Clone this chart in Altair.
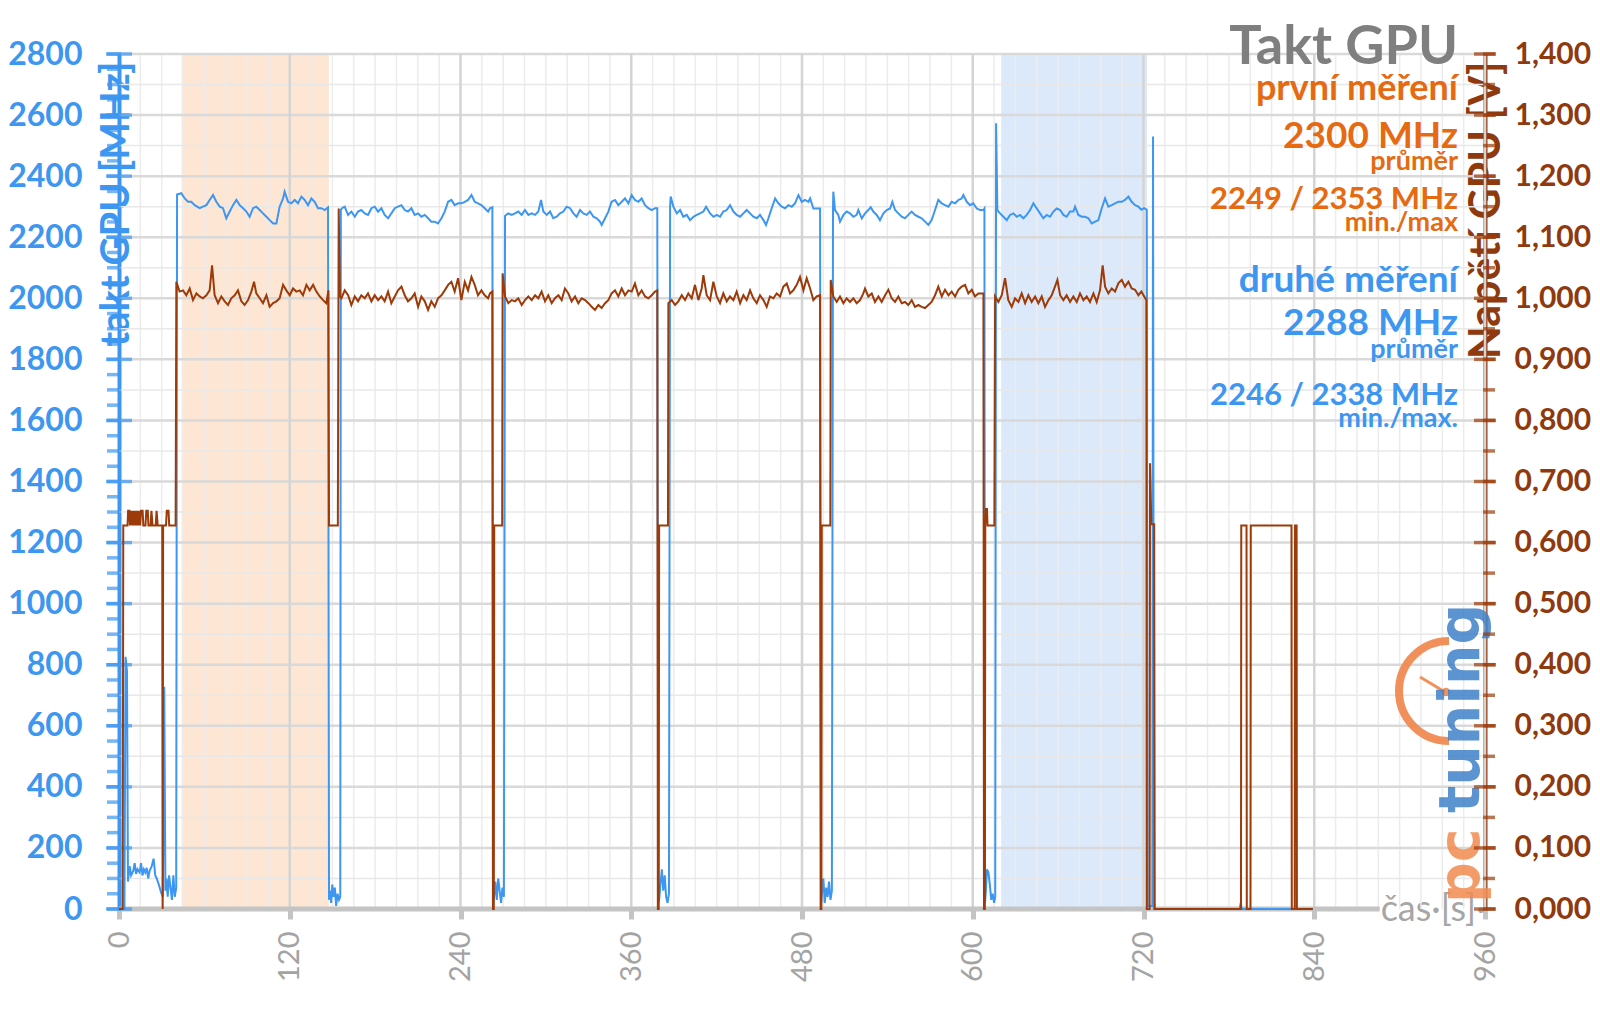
import altair as alt
import pandas as pd

BLUE = "#3d96f0"
BROWN = "#9c3a0a"
BROWN_TXT = "#8e3a0e"
ORANGE = "#e56a12"
GRAY = "#7f7f7f"

# ---------------- data ----------------
blue_idle_start = [(0, 0), (3.8, 0), (4.6, 826), (5.6, 780), (6.3, 90), (7.5, 140), (8.5, 110), (10.0, 125),
                   (11.0, 150), (12.0, 115), (13.0, 130), (14.5, 120), (15.5, 150), (16.5, 110), (17.5, 130),
                   (18.5, 120), (19.5, 135), (20.5, 100), (21.5, 125), (23.0, 140), (24.3, 165), (25.5, 110),
                   (26.5, 100), (28.0, 80), (29.5, 55), (30.8, 40), (31.8, 728), (32.6, 60), (33.4, 100),
                   (34.2, 40), (35.2, 110), (36.2, 70), (37.2, 30), (38.2, 110), (39.2, 40), (40.2, 70)]
blue_run1 = [(40.8, 2340), (43.8, 2344), (46.2, 2327), (48.5, 2316), (50.8, 2316), (53.2, 2305), (56.7, 2295),
             (59.0, 2300), (61.4, 2305), (63.7, 2322), (66.1, 2338), (68.4, 2316), (70.8, 2300), (73.1, 2295),
             (75.4, 2262), (77.8, 2284), (80.1, 2305), (82.5, 2322), (84.8, 2305), (87.2, 2295), (89.5, 2284),
             (91.8, 2267), (94.2, 2295), (96.5, 2300), (98.9, 2289), (101.2, 2278), (103.6, 2267), (105.9, 2256),
             (108.3, 2245), (110.6, 2245), (112.9, 2300), (115.3, 2327), (116.4, 2349), (118.8, 2316),
             (121.1, 2311), (123.5, 2322), (125.8, 2311), (128.2, 2333), (130.5, 2322), (132.8, 2305),
             (135.2, 2327), (137.5, 2316), (139.9, 2295), (142.2, 2295), (144.6, 2289), (146.9, 2298)]
blue_gap1 = [(147.6, 30), (148.3, 60), (149.1, 20), (149.9, 80), (150.8, 40), (151.7, 70), (152.6, 10),
             (153.6, 50), (154.6, 30), (155.5, 40)]
blue_run2 = [(155.9, 2290), (156.7, 2295), (158.6, 2300), (161.0, 2273), (163.3, 2284), (165.7, 2267),
             (168.0, 2284), (170.3, 2289), (172.7, 2278), (175.0, 2273), (177.4, 2295), (179.7, 2300),
             (182.1, 2284), (184.4, 2295), (186.7, 2273), (189.1, 2262), (191.4, 2278), (193.8, 2295),
             (196.1, 2300), (198.5, 2305), (200.8, 2289), (203.1, 2284), (205.5, 2295), (207.8, 2273),
             (210.2, 2278), (212.5, 2267), (214.9, 2273), (217.2, 2262), (219.5, 2251), (221.9, 2251),
             (224.2, 2245), (226.6, 2262), (228.9, 2284), (231.3, 2316), (233.6, 2322), (235.9, 2305),
             (238.3, 2311), (240.6, 2311), (243.0, 2316), (245.3, 2322), (247.7, 2338), (250.0, 2316),
             (252.3, 2311), (254.7, 2305), (257.0, 2295), (259.4, 2284), (260.7, 2295), (262.4, 2298)]
blue_gap2 = [(263.0, 20), (263.6, 40), (264.5, 90), (265.5, 30), (266.5, 100), (267.5, 60), (268.5, 20),
             (269.5, 70), (270.5, 40)]
blue_run3 = [(271.3, 2270), (272.0, 2273), (273.6, 2278), (276.0, 2273), (278.3, 2278), (280.6, 2284),
             (283.0, 2273), (285.3, 2289), (287.7, 2273), (290.0, 2278), (292.4, 2273), (294.7, 2284),
             (296.6, 2322), (298.2, 2284), (300.6, 2273), (302.9, 2284), (305.2, 2262), (307.6, 2267),
             (309.9, 2278), (312.3, 2284), (314.6, 2300), (317.0, 2295), (319.3, 2278), (321.6, 2267),
             (324.0, 2289), (326.3, 2278), (328.7, 2273), (331.0, 2284), (333.4, 2267), (335.7, 2262),
             (338.0, 2251), (339.2, 2240), (341.6, 2262), (343.9, 2284), (346.2, 2316), (348.6, 2322),
             (350.9, 2305), (353.3, 2316), (355.6, 2327), (358.0, 2311), (360.3, 2338), (362.6, 2322),
             (365.0, 2316), (367.3, 2327), (369.7, 2305), (372.0, 2295), (374.4, 2289), (376.7, 2295),
             (378.3, 2295)]
blue_gap3 = [(379.0, 20), (379.6, 30), (380.5, 80), (381.5, 130), (382.5, 60), (383.5, 110), (384.5, 40),
             (385.5, 20), (386.5, 50)]
blue_run4 = [(387.3, 2300), (387.7, 2333), (389.6, 2300), (392.0, 2278), (394.3, 2289), (396.6, 2267),
             (399.0, 2273), (401.3, 2256), (403.7, 2267), (406.0, 2273), (408.3, 2278), (410.7, 2284),
             (412.6, 2300), (415.4, 2278), (417.8, 2267), (420.1, 2273), (422.4, 2267), (424.7, 2284),
             (427.1, 2289), (429.4, 2305), (431.8, 2284), (434.1, 2273), (436.5, 2267), (438.8, 2278),
             (441.1, 2289), (443.5, 2278), (445.8, 2267), (448.2, 2262), (450.5, 2273), (452.9, 2256),
             (454.7, 2240), (456.4, 2262), (458.7, 2295), (461.1, 2327), (463.4, 2311), (465.8, 2300),
             (468.1, 2295), (470.4, 2305), (472.8, 2300), (475.1, 2311), (477.5, 2338), (479.8, 2316),
             (482.1, 2322), (484.5, 2316), (485.7, 2327), (488.0, 2294), (490.3, 2294), (492.7, 2294)]
blue_gap4 = [(493.4, 20), (494.0, 50), (495.0, 100), (496.0, 20), (497.0, 70), (498.0, 40), (499.0, 90),
             (500.0, 30), (501.0, 60)]
blue_run5 = [(501.8, 2300), (502.0, 2349), (503.2, 2289), (505.5, 2273), (506.7, 2251), (509.1, 2273),
             (511.4, 2284), (513.7, 2278), (516.1, 2267), (518.4, 2273), (519.6, 2289), (522.0, 2262),
             (524.3, 2278), (526.6, 2289), (528.3, 2298), (530.1, 2284), (532.5, 2273), (534.8, 2256),
             (537.2, 2278), (539.5, 2289), (541.9, 2294), (543.5, 2316), (545.4, 2289), (547.7, 2278),
             (550.1, 2267), (552.4, 2262), (554.7, 2273), (557.1, 2284), (559.4, 2273), (561.8, 2267),
             (564.1, 2262), (566.5, 2251), (568.8, 2240), (571.1, 2256), (573.5, 2289), (575.8, 2322),
             (578.2, 2311), (580.5, 2305), (582.9, 2300), (585.2, 2316), (587.6, 2311), (589.9, 2322),
             (592.2, 2327), (593.4, 2338), (595.8, 2316), (598.1, 2305), (600.4, 2311), (602.8, 2294),
             (605.1, 2289), (607.5, 2289), (608.2, 2294)]
blue_gap5 = [(608.6, 20), (609.2, 60), (610.0, 130), (611.0, 120), (612.0, 80), (613.0, 30), (614.0, 50),
             (615.0, 20), (615.8, 40)]
blue_run6 = [(616.4, 2573), (617.3, 2289), (619.2, 2278), (621.5, 2267), (623.9, 2256), (626.2, 2273),
             (628.6, 2278), (630.9, 2267), (633.2, 2273), (635.6, 2262), (637.9, 2273), (640.3, 2289),
             (642.6, 2311), (645.0, 2294), (647.3, 2278), (649.6, 2262), (652.0, 2273), (654.3, 2267),
             (656.7, 2284), (659.0, 2294), (661.4, 2289), (663.7, 2273), (666.0, 2267), (668.4, 2284),
             (670.7, 2284), (671.9, 2300), (674.2, 2273), (676.6, 2267), (678.9, 2267), (681.3, 2262),
             (683.6, 2245), (686.0, 2251), (688.3, 2256), (690.6, 2294), (693.0, 2327), (695.3, 2300),
             (697.7, 2305), (700.0, 2311), (702.4, 2316), (704.7, 2316), (707.0, 2322), (709.4, 2333),
             (711.7, 2316), (714.1, 2305), (716.4, 2300), (718.5, 2290), (720.5, 2295), (722.3, 2290)]
blue_idle_end = [(723.0, 10), (726.2, 10), (726.7, 2530), (727.3, 0), (787.6, 0), (788.3, 20), (789.0, 0),
                 (839.0, 0)]

brown_idle_start = [(0, 0.0), (2.6, 0.0), (3.0, 0.628), (6.0, 0.628), (6.4, 0.652), (7.3, 0.652), (7.7, 0.628),
                    (8.4, 0.652), (9.2, 0.628), (9.8, 0.652), (10.6, 0.628), (11.2, 0.652), (12.0, 0.628),
                    (12.6, 0.652), (13.4, 0.628), (14.0, 0.652), (14.9, 0.628), (15.5, 0.652), (16.6, 0.652),
                    (17.1, 0.628), (18.6, 0.628), (19.2, 0.652), (20.2, 0.652), (20.7, 0.628), (22.2, 0.628),
                    (22.8, 0.652), (23.6, 0.628), (25.8, 0.628), (26.4, 0.652), (27.2, 0.628), (30.4, 0.628),
                    (30.7, 0.0), (31.0, 0.628), (33.0, 0.628), (33.6, 0.652), (34.8, 0.652), (35.3, 0.628),
                    (39.8, 0.628)]
brown_run1 = [(40.3, 1.027), (42.6, 1.011), (45.0, 1.013), (47.3, 1.005), (49.7, 1.016), (52.0, 0.997),
              (54.4, 1.008), (56.7, 1.003), (59.0, 1.000), (61.4, 1.005), (63.7, 1.013), (65.4, 1.054),
              (67.2, 1.005), (69.6, 0.992), (71.9, 1.003), (74.3, 0.995), (76.6, 0.989), (78.9, 1.000),
              (81.3, 1.005), (83.6, 1.013), (86.0, 0.995), (88.3, 0.989), (90.7, 0.997), (93.0, 1.011),
              (94.9, 1.027), (96.5, 1.008), (98.9, 1.000), (101.2, 0.992), (103.6, 1.005), (105.9, 0.986),
              (108.3, 0.992), (110.6, 0.995), (112.9, 1.000), (115.3, 1.022), (117.6, 1.013), (120.0, 1.005),
              (122.3, 1.016), (124.6, 1.011), (127.0, 1.013), (129.3, 1.005), (131.7, 1.022), (134.0, 1.013),
              (136.4, 1.022), (138.7, 1.011), (141.1, 1.003), (143.4, 0.997), (145.7, 0.992), (147.2, 1.013)]
brown_gap1 = [(147.6, 0.628), (153.8, 0.628), (154.4, 1.147)]
brown_run2 = [(155.3, 1.003), (156.3, 1.000), (158.6, 1.013), (161.0, 1.005), (163.3, 0.989), (165.7, 1.003),
              (168.0, 0.995), (170.3, 1.005), (172.7, 1.000), (175.0, 1.008), (177.4, 0.995), (179.7, 1.005),
              (182.1, 0.997), (184.4, 1.003), (186.7, 0.995), (189.1, 1.011), (191.4, 0.992), (193.8, 1.003),
              (196.1, 1.013), (198.5, 1.019), (200.8, 1.005), (203.1, 0.995), (205.5, 1.000), (207.8, 1.008),
              (210.2, 0.986), (212.5, 1.003), (214.9, 0.995), (217.2, 0.981), (219.5, 0.995), (221.9, 0.986),
              (224.2, 1.000), (226.6, 1.005), (228.9, 1.013), (231.3, 1.022), (233.6, 1.027), (235.9, 1.011),
              (238.3, 1.033), (240.6, 0.997), (243.0, 1.027), (245.3, 1.013), (247.7, 1.035), (250.0, 1.022),
              (252.3, 1.005), (254.7, 1.013), (257.0, 1.005), (259.4, 1.000), (260.7, 1.008), (262.4, 1.011)]
brown_gap2 = [(262.8, 0.0), (263.4, 0.0), (263.7, 0.628), (269.3, 0.628)]
brown_run3 = [(269.6, 1.041), (271.3, 1.003), (273.6, 0.992), (276.0, 0.997), (278.3, 0.995), (280.6, 1.000),
              (283.0, 0.989), (285.3, 0.997), (287.7, 1.003), (290.0, 0.997), (292.4, 1.005), (294.7, 1.000),
              (297.0, 1.011), (299.4, 0.995), (301.7, 1.005), (304.1, 0.992), (306.4, 1.000), (308.8, 1.005),
              (311.1, 0.997), (313.4, 1.016), (315.8, 1.008), (318.1, 0.995), (320.5, 1.003), (322.8, 0.992),
              (325.2, 1.000), (327.5, 0.997), (329.9, 0.992), (332.2, 0.986), (334.5, 0.981), (336.9, 0.989),
              (339.2, 0.984), (341.6, 0.992), (343.9, 0.997), (346.2, 1.008), (348.6, 1.013), (350.9, 1.003),
              (353.3, 1.016), (355.6, 1.005), (358.0, 1.013), (360.3, 1.011), (362.6, 1.024), (365.0, 1.005),
              (367.3, 1.013), (369.7, 1.003), (372.0, 1.000), (374.4, 1.005), (376.7, 1.011), (378.3, 1.013)]
brown_gap3 = [(378.7, 0.0), (379.3, 0.0), (379.6, 0.628), (385.8, 0.628)]
brown_run4 = [(386.1, 0.992), (388.4, 0.997), (390.8, 0.989), (393.1, 0.995), (395.5, 1.005), (397.8, 0.997),
              (400.1, 1.008), (402.5, 1.000), (404.8, 1.022), (407.2, 0.997), (409.5, 1.016), (410.7, 1.038),
              (413.0, 1.005), (415.4, 0.997), (417.7, 1.027), (420.1, 1.003), (422.4, 0.992), (424.7, 1.008),
              (427.1, 0.995), (429.4, 1.003), (431.8, 0.997), (434.1, 1.011), (436.5, 0.992), (438.8, 1.005),
              (441.1, 0.997), (443.5, 1.013), (445.8, 1.000), (448.2, 0.992), (450.5, 1.005), (452.9, 0.997),
              (455.2, 0.986), (457.5, 1.003), (459.9, 1.000), (462.2, 1.008), (464.6, 1.003), (466.9, 1.019),
              (469.3, 1.024), (471.6, 1.008), (473.9, 1.013), (476.3, 1.022), (478.6, 1.035), (481.0, 1.013),
              (483.3, 1.033), (485.7, 1.016), (488.0, 0.997), (490.3, 1.003), (492.7, 1.005)]
brown_gap4 = [(493.1, 0.0), (493.6, 0.0), (493.9, 0.628), (499.9, 0.628)]
brown_run5 = [(500.2, 1.030), (502.0, 1.003), (504.4, 0.994), (506.7, 1.003), (509.1, 0.992), (511.4, 1.000),
              (513.7, 0.994), (516.1, 1.000), (518.4, 0.992), (520.8, 0.997), (523.1, 1.008), (524.3, 1.016),
              (526.6, 1.003), (529.0, 1.008), (531.3, 0.994), (533.7, 1.003), (536.0, 0.994), (538.4, 1.005),
              (540.7, 1.014), (543.0, 1.000), (545.4, 0.994), (547.7, 1.003), (550.1, 0.992), (552.4, 0.994),
              (554.7, 0.989), (557.1, 0.997), (559.4, 0.986), (561.8, 0.989), (564.1, 0.986), (566.5, 0.984),
              (568.8, 0.989), (571.1, 0.994), (573.5, 1.005), (575.8, 1.019), (578.2, 1.003), (580.5, 1.014),
              (582.9, 1.005), (585.2, 1.011), (587.6, 1.003), (589.9, 1.014), (592.2, 1.019), (594.6, 1.022),
              (596.9, 1.008), (599.3, 1.014), (601.6, 1.003), (603.9, 1.008), (607.5, 1.008)]
brown_gap5 = [(607.9, 0.0), (608.5, 0.0), (608.8, 0.628), (609.3, 0.655), (610.0, 0.655), (610.4, 0.628),
              (615.2, 0.628)]
brown_run6 = [(615.7, 1.003), (618.0, 0.994), (620.4, 1.005), (622.7, 1.033), (625.0, 0.997), (627.4, 0.986),
              (629.7, 1.000), (632.1, 0.994), (634.4, 1.008), (636.8, 0.992), (639.1, 1.005), (641.4, 0.994),
              (643.8, 1.003), (646.1, 0.992), (648.5, 1.003), (650.8, 0.986), (653.2, 0.997), (655.5, 1.005),
              (657.8, 1.019), (659.5, 1.030), (661.4, 1.005), (663.7, 0.997), (666.0, 1.005), (668.4, 0.994),
              (670.7, 1.003), (673.1, 0.994), (675.4, 1.008), (677.8, 0.997), (680.1, 1.003), (682.4, 0.994),
              (684.8, 1.008), (687.1, 0.994), (689.5, 1.014), (691.3, 1.054), (693.0, 1.019), (695.3, 1.008),
              (697.7, 1.016), (700.0, 1.011), (702.4, 1.025), (704.7, 1.030), (707.0, 1.019), (709.4, 1.027),
              (711.7, 1.016), (714.1, 1.014), (716.4, 1.005), (718.5, 1.011), (720.5, 1.003), (722.0, 0.997)]
brown_idle_end = [(722.3, 0.0), (724.3, 0.0), (724.6, 0.73), (725.5, 0.63), (727.5, 0.63), (727.9, 0.0),
                  (788.5, 0.0), (788.7, 0.628), (792.4, 0.628), (792.6, 0.0), (795.2, 0.0), (795.4, 0.628),
                  (824.0, 0.628), (824.2, 0.0), (826.3, 0.0), (826.5, 0.628), (827.6, 0.628), (827.8, 0.0),
                  (839.0, 0.0)]

first_window = (44.0, 147.5)
second_window = (620.0, 722.5)

x_ticks = [0, 120, 240, 360, 480, 600, 720, 840, 960]
left_major = list(range(0, 2801, 200))
left_minor = list(range(0, 2801, 50))
right_major = [round(i * 0.1, 2) for i in range(15)]
right_minor = [round(i * 0.05, 3) for i in range(29)]
grid_h_minor = list(range(100, 2801, 200))
grid_h_major = list(range(200, 2801, 200))
grid_v_minor = list(range(15, 961, 15))
grid_v_major = [120, 240, 360, 480, 600, 720, 840, 960]
axis_end = 886

# ---------------- frames ----------------
blue_df = pd.DataFrame(blue_idle_start + blue_run1 + blue_gap1 + blue_run2 + blue_gap2 + blue_run3 + blue_gap3
                       + blue_run4 + blue_gap4 + blue_run5 + blue_gap5 + blue_run6 + blue_idle_end,
                       columns=["t", "mhz"])
brown_df = pd.DataFrame(brown_idle_start + brown_run1 + brown_gap1 + brown_run2 + brown_gap2 + brown_run3
                        + brown_gap3 + brown_run4 + brown_gap4 + brown_run5 + brown_gap5 + brown_run6
                        + brown_idle_end, columns=["t", "v"])
one = pd.DataFrame({"k": [0]})

W, H = 1366, 855
xs = alt.Scale(domain=[0, 960], nice=False, zero=False)
ys = alt.Scale(domain=[0, 2800], nice=False)
vs = alt.Scale(domain=[0, 1.4], nice=False)

x_axis = alt.Axis(values=x_ticks, title="čas·[s]·", grid=False, domain=False, ticks=True, tickSize=10,
                  tickWidth=5, tickColor="#c4c4c4", labelAngle=270, labelFont="Lato", labelFontSize=29,
                  labelColor="#a3a3a3", labelPadding=12, labelFlush=False, labelOverlap=False,
                  titleFont="Lato", titleFontSize=36, titleColor="#a6a6a6", titleFontWeight="normal",
                  titleX=W, titleY=0, titleAlign="right", titleBaseline="middle", orient="bottom")
left_axis = alt.Axis(values=left_major, format="d", title="takt GPU [MHz]", grid=False, ticks=False,
                     tickSize=0, domainColor=BLUE, domainWidth=4, labelColor=BLUE, labelFont="Lato",
                     labelFontWeight="bold", labelFontSize=32, labelPadding=37, labelOverlap=False,
                     titleColor=BLUE, titleFont="Lato", titleFontWeight="bold", titleFontSize=40,
                     titleAngle=270, titleAlign="right", titleBaseline="middle", titleX=-3, titleY=7,
                     orient="left")
right_axis = alt.Axis(values=right_major, title="Napětí GPU [V]", grid=False, ticks=False, tickSize=0,
                      domainColor=BROWN, domainWidth=4, labelColor=BROWN_TXT, labelFont="Lato",
                      labelFontWeight="bold", labelFontSize=30, labelPadding=29, labelOverlap=False,
                      labelExpr="replace(format(datum.value, '.3f'), '.', ',')",
                      titleColor=BROWN_TXT, titleFont="Lato", titleFontWeight="bold", titleFontSize=43,
                      titleAngle=270, titleAlign="right", titleBaseline="middle", titleX=1, titleY=7,
                      orient="right")


def window(span, color):
    return alt.Chart(pd.DataFrame({"s": [span[0]], "e": [span[1]], "top": [2800], "bottom": [0]})).mark_rect(
        color=color).encode(
        x=alt.X("s:Q", scale=xs), x2="e:Q",
        y=alt.Y("top:Q", scale=ys), y2="bottom:Q")


def hgrid(vals, color, width):
    return alt.Chart(pd.DataFrame({"v": vals})).mark_rule(color=color, strokeWidth=width).encode(
        y=alt.Y("v:Q", scale=ys))


def vgrid(vals, color, width):
    return alt.Chart(pd.DataFrame({"v": vals})).mark_rule(color=color, strokeWidth=width).encode(
        x=alt.X("v:Q", scale=xs))


def label(text, x, y, size, color, weight="bold", align="right", angle=0, font="Lato",
          baseline="alphabetic", opacity=1.0):
    return alt.Chart(one).mark_text(text=text, align=align, baseline=baseline, fontSize=size, font=font,
                                    fontWeight=weight, color=color, angle=angle, opacity=opacity).encode(
        x=alt.value(x), y=alt.value(y))


base_rule = alt.Chart(pd.DataFrame({"a": [0], "b": [axis_end], "y": [0]})).mark_rule(
    color="#c4c4c4", strokeWidth=5).encode(
    x=alt.X("a:Q", scale=xs), x2="b:Q", y=alt.Y("y:Q", scale=ys))

# invisible carrier of the x and left axes (first layer), the visible line is drawn later on top
axis_carrier = alt.Chart(blue_df).mark_line(opacity=0).encode(
    x=alt.X("t:Q", scale=xs, axis=x_axis), y=alt.Y("mhz:Q", scale=ys, axis=left_axis))
blue_line = alt.Chart(blue_df).mark_line(color=BLUE, strokeWidth=2).encode(
    x=alt.X("t:Q", scale=xs), y=alt.Y("mhz:Q", scale=ys))

left_ticks_minor = alt.Chart(pd.DataFrame({"v": left_minor, "x": [0] * len(left_minor)})).mark_tick(
    orient="horizontal", size=14, thickness=3.5, color=BLUE, xOffset=-5).encode(
    x=alt.X("x:Q", scale=xs), y=alt.Y("v:Q", scale=ys))
left_ticks_major = alt.Chart(pd.DataFrame({"v": left_major, "x": [0] * len(left_major)})).mark_tick(
    orient="horizontal", size=26, thickness=3.5, color=BLUE).encode(
    x=alt.X("x:Q", scale=xs), y=alt.Y("v:Q", scale=ys))

ann_x = 1339
texts = [
    label("Takt GPU", ann_x, 10, 54, GRAY),
    label("první měření", ann_x, 46, 36, ORANGE),
    label("2300 MHz", ann_x, 94, 37, ORANGE),
    label("průměr", ann_x, 116, 27, ORANGE),
    label("2249 / 2353 MHz", ann_x, 155, 31, ORANGE),
    label("min./max", ann_x, 177, 27, ORANGE),
    label("druhé měření", ann_x, 238, 37, BLUE),
    label("2288 MHz", ann_x, 281, 37, BLUE),
    label("průměr", ann_x, 304, 27, BLUE),
    label("2246 / 2338 MHz", ann_x, 351, 31, BLUE),
    label("min./max.", ann_x, 373, 27, BLUE),
]

logo = [
    alt.Chart(one).mark_point(shape="M0,-1 A1,1 0 0,0 0,1", filled=False, size=10000, strokeWidth=8,
                              color="#f0854a", opacity=0.9).encode(x=alt.value(1330), y=alt.value(637)),
    alt.Chart(one).mark_rule(color="#f0854a", strokeWidth=3, opacity=0.9).encode(
        x=alt.value(1301), y=alt.value(623), x2=alt.value(1326), y2=alt.value(638)),
    alt.Chart(one).mark_circle(color="#f0854a", size=70, opacity=0.9).encode(
        x=alt.value(1327), y=alt.value(638)),
    label("pc", 1343, 849, 57, "#f28b4f", align="left", angle=270, font="DejaVu Sans",
          baseline="middle", opacity=0.85),
    label("tuning", 1343, 759, 57, "#3f82c8", align="left", angle=270, font="DejaVu Sans",
          baseline="middle", opacity=0.85),
]

left_group = alt.layer(
    axis_carrier,
    window(first_window, "#fde6d3"),
    window(second_window, "#dbe9fb"),
    vgrid(grid_v_minor, "#ececec", 1.5),
    hgrid(grid_h_minor, "#e8e8e8", 1.5),
    hgrid(grid_h_major, "#d9d9d9", 2.5),
    vgrid(grid_v_major, "#d4d4d4", 2.5),
    base_rule,
    *logo,
    blue_line,
    left_ticks_minor,
    left_ticks_major,
    *texts,
)

brown_line = alt.Chart(brown_df).mark_line(color=BROWN, strokeWidth=2).encode(
    x=alt.X("t:Q", scale=xs), y=alt.Y("v:Q", scale=vs, axis=right_axis))
right_ticks_minor = alt.Chart(pd.DataFrame({"v": right_minor, "x": [960] * len(right_minor)})).mark_tick(
    orient="horizontal", size=12, thickness=3.5, color=BROWN, xOffset=4).encode(
    x=alt.X("x:Q", scale=xs), y=alt.Y("v:Q", scale=vs))
right_ticks_major = alt.Chart(pd.DataFrame({"v": right_major, "x": [960] * len(right_major)})).mark_tick(
    orient="horizontal", size=22, thickness=3.5, color=BROWN).encode(
    x=alt.X("x:Q", scale=xs), y=alt.Y("v:Q", scale=vs))

right_group = alt.layer(brown_line, right_ticks_minor, right_ticks_major)

chart = alt.layer(left_group, right_group).resolve_scale(y="independent").properties(
    width=W, height=H,
    padding={"left": 111, "top": 46, "right": 107, "bottom": 90},
    autosize=alt.AutoSizeParams(type="none"),
    background="white",
).configure_view(stroke=None)

chart.save("out.html", embed_options={"renderer": "svg", "actions": False})
